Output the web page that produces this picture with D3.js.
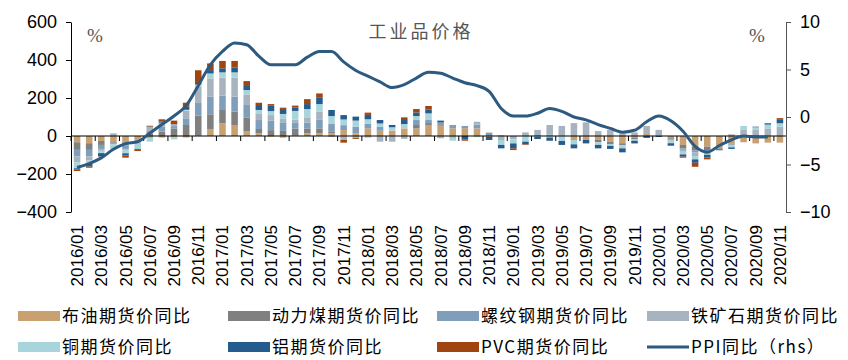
<!DOCTYPE html>
<html><head><meta charset="utf-8">
<script src="https://cdn.jsdelivr.net/npm/d3@7/dist/d3.min.js"></script>
<style>body{margin:0;background:#fff}svg{display:block}</style>
</head><body><svg id="c" width="848" height="360"></svg>
<script>
const months = ["2016/01","2016/02","2016/03","2016/04","2016/05","2016/06","2016/07","2016/08","2016/09","2016/10","2016/11","2016/12",
"2017/01","2017/02","2017/03","2017/04","2017/05","2017/06","2017/07","2017/08","2017/09","2017/10","2017/11","2017/12",
"2018/01","2018/02","2018/03","2018/04","2018/05","2018/06","2018/07","2018/08","2018/09","2018/10","2018/11","2018/12",
"2019/01","2019/02","2019/03","2019/04","2019/05","2019/06","2019/07","2019/08","2019/09","2019/10","2019/11","2019/12",
"2020/01","2020/02","2020/03","2020/04","2020/05","2020/06","2020/07","2020/08","2020/09","2020/10","2020/11"];
const tickLabels = ["2016/01","2016/03","2016/05","2016/07","2016/09","2016/11","2017/01","2017/03","2017/05","2017/07","2017/09","2017/11",
"2018/01","2018/03","2018/05","2018/07","2018/09","2018/11","2019/01","2019/03","2019/05","2019/07","2019/09","2019/11",
"2020/01","2020/03","2020/05","2020/07","2020/09","2020/11"];
const oil = [-33,-38,-26,-33,-33,-21,-10,-8,-5,-8,2,37, 67,58,26,14,-3,-9,2,14,14,14,31,14, 40,23,28,40,40,58,53,40,41,40,-5,0, 0,0,0,5,0,-21,-21,-21,-30,-38,-10,15, 4,-12,-47,-56,-56,-65,-40,-33,-39,-35,-35];
const coal = [-40,-35,-21,-5,-17,0,14,23,40,58,105,77, 70,70,70,23,31,27,37,26,26,8,0,0, 0,5,0,0,18,10,0,0,0,0,0,0, 0,0,0,0,0,0,0,-12,-12,-10,-8,0, 0,-6,-18,-21,-18,-5,-5,0,0,0,0];
const rebar = [-35,-35,-21,-5,-18,0,12,25,12,35,67,93, 75,79,67,47,49,45,30,30,45,41,26,35, 25,20,0,0,26,16,18,18,12,20,18,3, 0,0,5,3,0,0,0,0,0,0,0,0, 0,-6,-8,-10,-10,0,-5,0,0,0,0];
const ore = [-30,-21,-10,14,-5,-12,22,22,10,40,84,96, 95,100,56,35,30,18,17,28,43,-5,-21,-10, -8,-30,-30,-15,0,0,-12,-10,0,15,0,-21, -18,19,27,50,53,68,72,26,32,14,19,38, 28,0,-10,-18,-10,0,9,35,32,40,49];
const copper = [-32,-18,-12,-20,-18,-35,-20,0,-13,5,13,26, 28,28,23,18,21,26,46,44,40,42,30,32, 23,18,18,23,21,35,0,-15,0,-6,0,-26, -21,-30,-4,-8,-26,-23,0,-14,-10,-17,-7,0, 0,-14,-14,-18,-5,0,-10,18,14,20,18];
const alu = [-5,-14,-17,-2,-12,-1,2,6,0,16,8,18, 21,25,26,26,28,21,18,26,33,32,23,21, 23,18,12,21,19,21,10,0,-18,0,-16,-18, -26,-14,-12,-17,-21,-21,-18,-18,-16,-21,-14,-10, -5,-13,-12,-18,-14,-5,-8,0,3,7,18];
const pvc = [-9,-6,-2,0,-11,-10,4,12,19,21,67,35, 39,35,21,12,9,12,10,26,23,0,-14,-5, 12,0,0,14,18,18,0,0,-7,0,0,0, -9,-3,0,0,0,0,0,0,0,0,0,0, 0,0,-5,-21,-10,0,0,0,0,0,9];
const ppi = [-5.3,-4.9,-4.3,-3.4,-2.8,-2.6,-1.7,-0.8,0.1,1.2,3.3,5.5, 6.9,7.8,7.6,6.4,5.5,5.5,5.5,6.3,6.9,6.9,5.8,4.9, 4.3,3.7,3.1,3.4,4.1,4.7,4.6,4.1,3.6,3.3,2.7,0.9, 0.1,0.1,0.4,0.9,0.6,0.0,-0.3,-0.8,-1.2,-1.6,-1.4,-0.5, 0.1,-0.4,-1.5,-3.1,-3.7,-3.0,-2.4,-2.0,-2.1,-2.1];
const seriesNames = ["布油期货价同比","动力煤期货价同比","螺纹钢期货价同比","铁矿石期货价同比","铜期货价同比","铝期货价同比","PVC期货价同比"];
const lineName = "PPI同比（rhs）";
const colors = ["#C9A070","#808080","#7E9EBA","#A7B4BF","#A8D5DB","#245C8E","#A0450F"];
const lineColor = "#2C5A80";
const leftTicks = [-400,-200,0,200,400,600];
const rightTicks = [-10,-5,0,5,10];
const title = "工业品价格";

const svg = d3.select("#c");
const L = 71, R = 786, T = 22, B = 212;
const x = d3.scaleBand().domain(months).range([L, R]).paddingInner(0.46).paddingOuter(0.23);
const yL = d3.scaleLinear().domain([-400, 600]).range([B, T]);
const yR = d3.scaleLinear().domain([-10, 10]).range([B, T]);

const allSeries = [oil, coal, rebar, ore, copper, alu, pvc];
const rows = months.map((m, i) => { const o = {m}; allSeries.forEach((s, k) => o["s"+k] = s[i]); return o; });
const keys = allSeries.map((s, k) => "s"+k);
const stacked = d3.stack().keys(keys).offset(d3.stackOffsetDiverging)(rows);

svg.append("g").selectAll("g").data(stacked).join("g")
  .attr("fill", (d, k) => colors[k])
  .selectAll("rect").data(d => d).join("rect")
  .attr("x", d => x(d.data.m))
  .attr("width", x.bandwidth())
  .attr("y", d => yL(Math.max(d[0], d[1])))
  .attr("height", d => Math.abs(yL(d[0]) - yL(d[1])));

// zero axis line with ticks
const step = x.step();
const gx = svg.append("g");
gx.append("line").attr("x1", L).attr("x2", R).attr("y1", yL(0)).attr("y2", yL(0)).attr("stroke", "#000").attr("stroke-width", 1.2);
tickLabels.forEach(t => {
  const cx = x(t) + x.bandwidth() / 2 - step / 2;
  gx.append("line").attr("x1", cx).attr("x2", cx).attr("y1", yL(0)).attr("y2", yL(0) + 5).attr("stroke", "#000").attr("stroke-width", 1);
});
// category labels at bottom
svg.append("g").selectAll("text").data(tickLabels).join("text")
  .attr("transform", d => `translate(${x(d) + x.bandwidth()/2 + 6},${B + 13}) rotate(-90)`)
  .attr("text-anchor", "end")
  .attr("font-family", "Arial, 'Liberation Sans', sans-serif")
  .attr("font-size", 17).attr("fill", "#000")
  .text(d => d);

// left axis
const ga = svg.append("g").attr("transform", `translate(${L},0)`)
  .call(d3.axisLeft(yL).tickValues(leftTicks).tickSize(5).tickSizeOuter(0));
ga.select(".domain").attr("stroke", "#000");
ga.selectAll("text").attr("font-family", "Arial, 'Liberation Sans', sans-serif").attr("font-size", 18).attr("fill", "#000").attr("x", -14);
// right axis
const gr = svg.append("g").attr("transform", `translate(${R},0)`)
  .call(d3.axisRight(yR).tickValues(rightTicks).tickSize(5).tickSizeOuter(0));
gr.select(".domain").attr("stroke", "#555");
gr.selectAll("line").attr("stroke", "#555");
gr.selectAll("text").attr("font-family", "Arial, 'Liberation Sans', sans-serif").attr("font-size", 18).attr("fill", "#000").attr("x", 14);

// PPI line
const line = d3.line().x((d, i) => x(months[i]) + x.bandwidth()/2).y(d => yR(d)).curve(d3.curveMonotoneX);
svg.append("path").datum(ppi).attr("d", line).attr("fill", "none").attr("stroke", lineColor).attr("stroke-width", 3);

// title and unit marks
svg.append("text").attr("x", 421).attr("y", 38).attr("text-anchor", "middle")
  .attr("font-family", "'Noto Sans CJK SC', sans-serif").attr("font-size", 18).attr("letter-spacing", 3).attr("fill", "#555").text(title);
svg.append("text").attr("x", 95).attr("y", 42).attr("text-anchor", "middle").attr("font-family", "'Liberation Serif', serif").attr("font-size", 19).attr("fill", "#555").text("%");
svg.append("text").attr("x", 757).attr("y", 42).attr("text-anchor", "middle").attr("font-family", "'Liberation Serif', serif").attr("font-size", 19).attr("fill", "#555").text("%");

// legend
const legX = [18, 228, 437, 647];
const legY = [316, 347];
const items = seriesNames.map((n, k) => ({n, k}));
items.push({n: lineName, k: -1});
const lg = svg.append("g");
items.forEach((it, j) => {
  const lx = legX[j % 4], ly = legY[Math.floor(j / 4)];
  if (it.k >= 0) lg.append("rect").attr("x", lx).attr("y", ly - 5).attr("width", 42).attr("height", 10).attr("fill", colors[it.k]);
  else lg.append("line").attr("x1", lx).attr("x2", lx + 42).attr("y1", ly).attr("y2", ly).attr("stroke", lineColor).attr("stroke-width", 3);
  lg.append("text").attr("x", lx + 44).attr("y", ly + 6).attr("font-family", "'Noto Sans CJK SC', sans-serif")
    .attr("font-size", 17).attr("letter-spacing", 1.5).attr("fill", "#000").text(it.n);
});
</script></body></html>
